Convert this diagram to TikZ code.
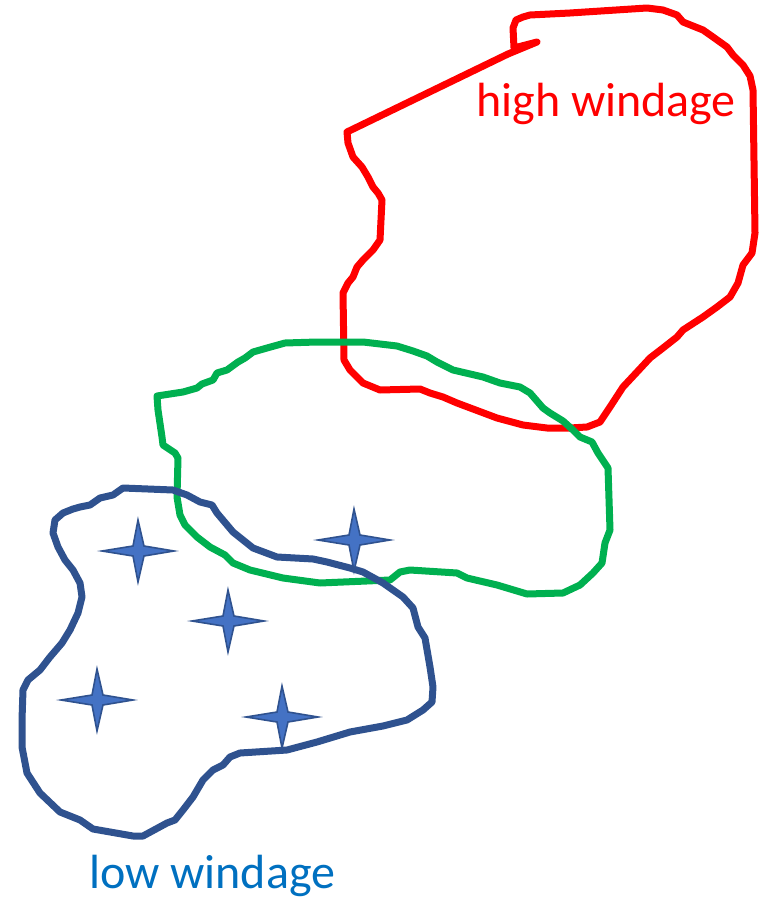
\documentclass[tikz,border=0pt]{standalone}
\usepackage{fontspec}
\setmainfont{Carlito}
\definecolor{penred}{HTML}{FF0000}
\definecolor{pengreen}{HTML}{00B050}
\definecolor{penblue}{HTML}{2F528F}
\definecolor{starfill}{HTML}{4472C4}
\definecolor{labelblue}{HTML}{0070C0}
\newcommand{\glint}[1]{\draw[starline] #1 +(36,0) -- +(6,-5) -- +(0,-31) -- +(-5,-5) -- +(-36,0) -- +(-5,5) -- +(0,31) -- +(6,5) -- cycle;}

\begin{document}
\begin{tikzpicture}[x=1pt,y=-1pt,
			blob/.style={line width=7pt, line join=round, line cap=round},
			starline/.style={draw=penblue, fill=starfill, line width=1.6pt, line join=miter},
			tag/.style={anchor=base west, inner sep=0pt, font=\fontsize{48}{52}\selectfont}]
			\useasboundingbox (0,0) rectangle (760,901);
			% high windage region
			\draw[blob, penred] (537,42) -- (514,48) -- (513,28) -- (516,20) -- (523,17) -- (530,15) -- (570,13) -- (647,8) -- (663,10) -- (677,15) -- (683,22) -- (703,30) -- (713,37) -- (727,47) -- (733,55) -- (743,65) -- (750,76) -- (753,90) -- (755,233) -- (752,253) -- (743,265) -- (738,283) -- (730,297) -- (717,307) -- (703,317) -- (683,330) -- (677,337) -- (663,348) -- (650,358) -- (637,372) -- (623,387) -- (610,407) -- (600,422) -- (587,427) -- (570,428) -- (547,428) -- (523,425) -- (497,418) -- (457,403) -- (443,397) -- (430,393) -- (420,389) -- (380,390) -- (363,383) -- (350,370) -- (344,360) -- (343,293) -- (348,283) -- (353,277) -- (357,267) -- (363,260) -- (373,250) -- (380,240) -- (382,200) -- (378,193) -- (373,187) -- (368,177) -- (362,167) -- (353,157) -- (348,143) -- (347,132) -- (508,54) -- cycle;
			% middle region
			\draw[blob, pengreen] (157,396) -- (183,392) -- (197,388) -- (202,384) -- (213,380) -- (217,373) -- (227,370) -- (238,362) -- (245,358) -- (253,352) -- (267,348) -- (285,343) -- (317,342) -- (363,342) -- (397,346) -- (413,351) -- (427,356) -- (437,362) -- (453,370) -- (483,377) -- (500,383) -- (520,387) -- (530,393) -- (543,408) -- (550,413) -- (563,421) -- (573,430) -- (580,437) -- (592,442) -- (598,453) -- (608,468) -- (610,530) -- (605,543) -- (602,563) -- (593,573) -- (580,585) -- (563,593) -- (527,594) -- (507,588) -- (497,585) -- (467,578) -- (457,573) -- (410,570) -- (400,572) -- (390,580) -- (320,583) -- (283,578) -- (250,570) -- (233,563) -- (225,555) -- (210,547) -- (197,537) -- (185,525) -- (180,515) -- (177,497) -- (178,458) -- (175,453) -- (163,445) -- (162,437) -- (158,410) -- cycle;
			% low windage region
			\draw[blob, penblue] (123,488) -- (173,490) -- (187,495) -- (200,502) -- (212,505) -- (217,513) -- (233,532) -- (253,548) -- (277,557) -- (313,559) -- (327,562) -- (350,568) -- (363,572) -- (383,583) -- (403,597) -- (413,608) -- (418,627) -- (425,638) -- (430,667) -- (433,687) -- (432,702) -- (423,710) -- (407,720) -- (383,726) -- (350,732) -- (317,742) -- (287,750) -- (240,753) -- (230,757) -- (223,765) -- (213,770) -- (203,780) -- (193,797) -- (183,810) -- (175,820) -- (167,823) -- (143,836) -- (133,836) -- (93,829) -- (80,820) -- (60,812) -- (40,793) -- (27,773) -- (22,747) -- (22,720) -- (23,690) -- (28,680) -- (40,670) -- (50,657) -- (62,643) -- (70,630) -- (78,613) -- (82,597) -- (80,583) -- (73,570) -- (65,560) -- (58,547) -- (53,533) -- (55,520) -- (63,513) -- (73,509) -- (80,507) -- (90,505) -- (100,498) -- (113,495) -- cycle;
			\glint{(138,551)}
			\glint{(228,621)}
			\glint{(97,700)}
			\glint{(282,717)}
			\glint{(354,540)}
			\node[tag, penred] (high) at (476,117) {high windage};
			\node[tag, labelblue] (low) at (89,888) {low windage};
\end{tikzpicture}
\end{document}
